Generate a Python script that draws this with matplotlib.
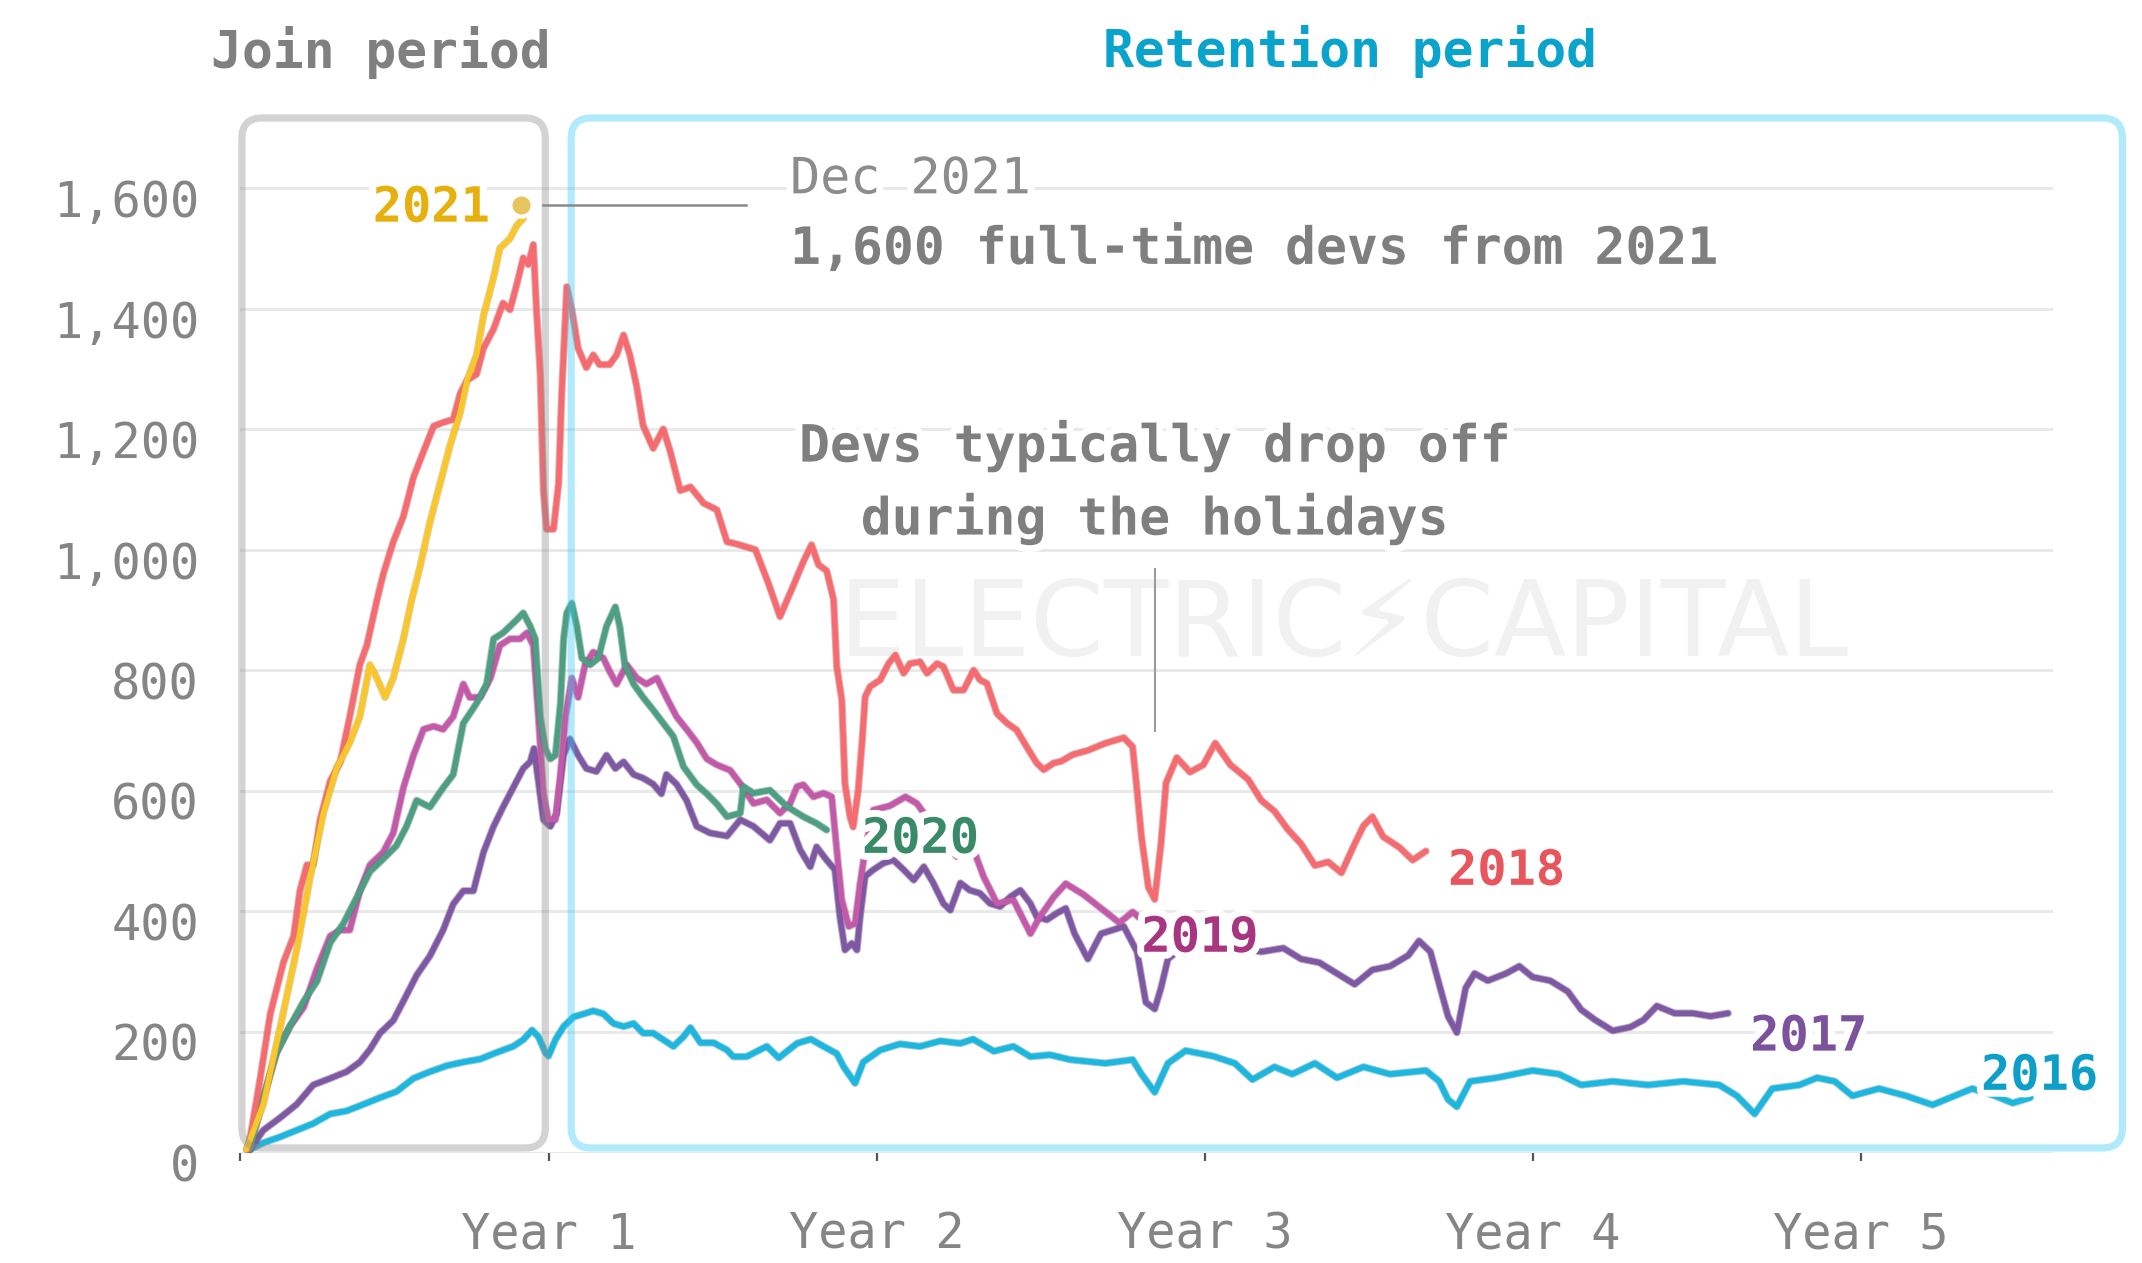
import matplotlib
matplotlib.use("Agg")
import matplotlib.pyplot as plt
import matplotlib.patheffects as pe
from matplotlib.patches import FancyBboxPatch
from matplotlib.transforms import ScaledTranslation
from matplotlib.colors import to_rgb

MONO = "DejaVu Sans Mono"
plt.rcParams["font.family"] = [MONO, "DejaVu Sans"]

# ---------------- data (weeks since cohort start, full-time devs) ----------------
weeks_2021 = [4.0, 6.7, 9.4, 12.0, 14.1, 16.2, 18.3, 20.4, 22.0, 23.6, 24.7, 26.0, 27.3, 28.9, 30.2,
              31.5, 33.1, 34.7, 36.3, 37.9, 39.0, 40.5, 41.6, 43.2, 44.2, 45.8, 46.9, 47.9]
devs_2021 = [5, 80, 209, 337, 455, 562, 637, 680, 723, 809, 787, 755, 787, 852, 916,
             970, 1045, 1109, 1173, 1227, 1281, 1323, 1388, 1452, 1500, 1516, 1538, 1549]

weeks_2018 = [4.3, 6.2, 7.8, 9.9, 11.5, 12.5, 13.6, 14.6, 15.7, 17.3,
              18.9, 20.4, 22.0, 23.1, 24.7, 25.7, 27.3, 28.9, 30.5, 32.1,
              33.7, 35.2, 36.8, 37.9, 39.0, 40.5, 41.6, 43.2, 44.7, 45.8,
              46.9, 47.9, 48.7, 49.5, 50.0, 50.6, 51.1, 51.6, 52.7, 53.5,
              54.0, 54.8, 55.6, 56.6, 57.9, 59.0, 60.0, 61.6, 62.7, 63.8,
              64.8, 65.9, 66.9, 68.5, 70.1, 71.2, 72.8, 74.4, 76.5, 78.6,
              80.2, 81.5, 84.7, 86.7, 88.6, 90.7, 92.3, 93.6, 94.7, 96.0,
              97.1, 97.6, 98.4, 98.9, 99.7, 100.2, 101.0, 101.6, 102.1, 102.9,
              104.5, 105.8, 106.9, 108.2, 109.2, 110.8, 111.9, 113.5, 114.5, 116.1,
              117.7, 119.3, 120.3, 121.4, 123.0, 124.6, 126.1, 127.7, 129.3, 130.4,
              132.0, 133.2, 135.0, 137.4, 140.2, 143.1, 144.5, 145.2, 145.9, 147.0,
              148.0, 149.0, 149.8, 151.5, 153.6, 155.7, 157.6, 160.0, 162.8, 164.9,
              167.0, 169.1, 171.2, 173.4, 175.5, 177.6, 179.7, 181.1, 182.5, 184.2,
              186.8, 188.9, 191.0]
devs_2018 = [5, 123, 230, 316, 359, 434, 477, 477, 552, 616,
             648, 723, 809, 841, 916, 959, 1013, 1055, 1120, 1163,
             1205, 1211, 1216, 1259, 1281, 1291, 1334, 1366, 1409, 1398,
             1441, 1484, 1473, 1506, 1398, 1291, 1098, 1034, 1034, 1109,
             1259, 1436, 1398, 1334, 1302, 1323, 1307, 1307, 1323, 1356,
             1323, 1270, 1206, 1168, 1200, 1163, 1098, 1104, 1077, 1066,
             1013, 1010, 1000, 946, 889, 940, 980, 1008, 975, 965,
             917, 806, 751, 612, 557, 540, 601, 679, 756, 773,
             784, 811, 825, 795, 811, 814, 795, 811, 806, 767,
             767, 800, 784, 778, 728, 712, 701, 673, 646, 635,
             646, 649, 660, 667, 679, 688, 673, 601, 524, 440,
             420, 512, 613, 655, 631, 643, 679, 643, 619, 584,
             566, 536, 512, 476, 482, 464, 512, 542, 557, 524,
             506, 485, 500]

weeks_2020 = [4.6, 6.7, 8.8, 10.9, 13.1, 15.2, 17.3, 19.4, 21.5, 23.6,
              25.7, 27.8, 29.4, 31.0, 33.1, 35.2, 36.8, 38.4, 40.5, 42.1,
              43.2, 44.7, 45.8, 46.9, 47.9, 49.0, 49.8, 50.6, 51.4, 52.2,
              53.0, 53.8, 54.3, 54.8, 55.6, 56.4, 57.2, 58.5, 59.8, 61.1,
              62.5, 63.2, 64.0, 65.4, 66.9, 68.5, 70.1, 71.7, 73.3, 75.4,
              77.0, 78.6, 80.2, 82.3, 82.8, 84.4, 87.0, 89.7, 92.3, 94.4, 96.0]
devs_2020 = [5, 91, 166, 209, 251, 284, 348, 380, 423, 466,
             487, 509, 541, 584, 573, 605, 627, 712, 745, 777,
             852, 862, 873, 884, 895, 873, 852, 723, 670, 653,
             659, 745, 852, 895, 911, 873, 820, 809, 820, 873,
             905, 873, 809, 777, 755, 734, 712, 690, 640, 610,
             595, 578, 557, 563, 607, 596, 601, 574, 557, 546, 535]

weeks_2019 = [4.1, 6.7, 8.8, 10.9, 13.1, 15.2, 17.3, 18.9, 20.4, 22.0,
              23.6, 25.7, 27.3, 28.9, 30.5, 32.1, 33.7, 35.2, 36.8, 38.4,
              39.4, 41.1, 42.7, 44.2, 45.8, 47.4, 48.5, 49.5, 50.3, 51.1,
              51.9, 53.0, 53.8, 54.6, 55.6, 56.6, 57.7, 59.0, 60.6, 61.6,
              62.7, 64.3, 65.9, 67.4, 69.1, 70.6, 72.2, 73.8, 75.4, 77.0,
              78.6, 80.7, 82.3, 84.4, 86.5, 88.6, 90.2, 91.3, 92.3, 93.9,
              95.5, 96.8, 97.6, 98.4, 99.5, 100.5, 101.3, 102.1, 103.4, 106.0,
              108.5, 110.3, 113.0, 116.6, 119.3, 120.9, 123.0, 125.6, 128.3, 129.8,
              132.0, 133.9, 136.7, 139.5, 142.4, 144.5, 145.5]
devs_2019 = [5, 91, 166, 209, 241, 305, 359, 369, 369, 434,
             477, 498, 530, 605, 659, 702, 707, 702, 723, 777,
             755, 755, 787, 841, 852, 852, 862, 841, 723, 595,
             552, 552, 627, 723, 787, 755, 809, 830, 820, 798,
             777, 809, 787, 777, 787, 755, 723, 702, 680, 653,
             643, 634, 612, 579, 585, 563, 579, 607, 610, 590,
             596, 590, 502, 419, 375, 380, 446, 502, 568, 575,
             590, 579, 540, 491, 502, 457, 413, 419, 363, 391,
             424, 446, 428, 405, 381, 399, 390]

weeks_2017 = [4.6, 6.7, 9.4, 12.0, 14.6, 17.3, 19.9, 22.0, 23.6, 25.2,
              27.3, 28.9, 31.0, 33.1, 35.2, 36.8, 38.4, 40.0, 41.6, 43.2,
              44.7, 46.3, 47.9, 49.0, 49.6, 50.3, 51.1, 52.2, 53.2, 54.3,
              55.3, 56.6, 57.9, 59.5, 61.1, 62.5, 63.8, 65.4, 66.9, 68.5,
              69.8, 70.6, 72.2, 73.8, 75.4, 77.5, 80.2, 82.3, 84.4, 87.0,
              88.6, 90.2, 91.8, 93.4, 94.4, 96.0, 97.3, 98.1, 98.9, 100.0,
              100.8, 101.3, 102.1, 103.4, 105.0, 106.6, 108.2, 109.8, 111.4, 112.9,
              114.5, 115.6, 117.2, 118.7, 120.3, 121.9, 123.5, 125.1, 126.7, 128.3,
              129.3, 130.9, 132.5, 133.9, 135.3, 137.4, 139.5, 143.1, 145.2, 146.6,
              148.0, 149.0, 150.1, 151.5, 154.3, 158.6, 164.9, 168.4, 171.2, 174.1,
              176.9, 179.7, 182.5, 185.3, 188.2, 189.9, 191.7, 193.1, 194.5, 195.9,
              197.3, 198.7, 200.8, 203.7, 205.8, 207.9, 210.7, 213.5, 215.6, 217.8,
              220.6, 223.4, 225.5, 227.6, 230.4, 233.3, 236.1, 238.9]
devs_2017 = [5, 37, 58, 80, 112, 123, 134, 150, 171, 198,
             219, 251, 294, 326, 369, 412, 434, 434, 498, 541,
             573, 605, 637, 648, 670, 616, 552, 541, 562, 659,
             686, 659, 637, 632, 659, 637, 648, 627, 621, 611,
             595, 627, 611, 584, 541, 530, 525, 552, 541, 518,
             546, 546, 502, 474, 507, 485, 469, 391, 336, 347,
             336, 391, 458, 469, 480, 485, 469, 452, 474, 447,
             413, 402, 447, 435, 430, 413, 408, 424, 435, 413,
             391, 386, 397, 405, 363, 321, 363, 375, 333, 249,
             238, 273, 321, 333, 339, 345, 333, 339, 321, 315,
             297, 279, 303, 309, 327, 351, 333, 279, 226, 199,
             273, 297, 285, 297, 309, 291, 285, 267, 237, 220,
             202, 208, 220, 243, 231, 231, 226, 231]

weeks_2016 = [4.6, 6.7, 9.4, 12.0, 14.6, 17.3, 19.9, 22.6, 25.2, 27.8,
              30.5, 33.1, 35.8, 38.4, 41.1, 43.7, 46.3, 47.9, 49.3, 50.3,
              51.4, 51.9, 53.0, 54.3, 55.9, 57.5, 59.0, 60.6, 62.2, 63.8,
              65.4, 66.9, 68.5, 70.1, 71.7, 73.3, 74.4, 76.0, 78.1, 80.2,
              81.2, 83.3, 86.5, 88.4, 91.3, 93.5, 95.5, 97.6, 98.7, 100.5,
              101.8, 104.5, 107.6, 110.8, 114.0, 117.2, 119.2, 122.5, 125.6, 128.3,
              131.4, 134.6, 140.2, 144.5, 145.9, 148.0, 150.1, 152.9, 157.2, 160.7,
              163.5, 167.0, 169.8, 173.4, 176.9, 181.1, 185.3, 191.0, 193.1, 194.5,
              195.9, 198.0, 202.2, 207.9, 212.1, 215.6, 220.6, 226.2, 231.8, 237.5,
              240.3, 243.1, 245.9, 250.2, 253.0, 255.8, 258.6, 262.8, 267.1, 271.3,
              274.8, 277.6, 281.2, 284.0, 286.8]
devs_2016 = [5, 16, 26, 37, 48, 64, 69, 80, 91, 101,
             123, 134, 144, 150, 155, 166, 176, 187, 203, 192,
             166, 160, 187, 209, 225, 230, 235, 230, 214, 209,
             214, 198, 198, 187, 176, 192, 207, 182, 182, 170,
             159, 159, 176, 157, 181, 188, 176, 164, 142, 115,
             150, 170, 180, 176, 185, 181, 188, 168, 176, 159,
             162, 154, 148, 154, 130, 100, 148, 169, 160, 148,
             121, 142, 130, 148, 124, 142, 130, 136, 118, 88,
             76, 118, 124, 136, 130, 112, 118, 112, 118, 112,
             94, 64, 106, 112, 124, 118, 94, 106, 94, 79,
             94, 106, 94, 82, 91]

cohorts = ["2016", "2017", "2019", "2020", "2018", "2021"]  # drawing order
series = {
    "2016": (weeks_2016, devs_2016),
    "2017": (weeks_2017, devs_2017),
    "2018": (weeks_2018, devs_2018),
    "2019": (weeks_2019, devs_2019),
    "2020": (weeks_2020, devs_2020),
    "2021": (weeks_2021, devs_2021),
}
for k, (w, d) in series.items():
    assert len(w) == len(d), (k, len(w), len(d))

y_ticks = [0, 200, 400, 600, 800, 1000, 1200, 1400, 1600]
y_labels = ["0", "200", "400", "600", "800", "1,000", "1,200", "1,400", "1,600"]
x_ticks = [3, 52, 104, 156, 208, 260]
x_labels = ["", "Year 1", "Year 2", "Year 3", "Year 4", "Year 5"]

# ---------------- style ----------------
line_colors = {"2016": "#1db6de", "2017": "#7f58a3", "2018": "#f66b6f",
               "2019": "#c25aa9", "2020": "#4d9e82", "2021": "#f9c62c"}
label_colors = {"2016": "#0e9fc8", "2017": "#7d529d", "2018": "#e8555c",
                "2019": "#a8357f", "2020": "#3a8a6a", "2021": "#e6b00f"}
# label anchor: (week, devs, horizontal alignment)
label_pos = {"2016": (279.0, 104, "left"), "2017": (242.4, 169, "left"),
             "2018": (194.5, 444, "left"), "2019": (145.9, 333, "left"),
             "2020": (101.6, 497, "left"), "2021": (42.6, 1544, "right")}

W, H = 2142, 1263
fig = plt.figure(figsize=(W / 100, H / 100), dpi=100)
ax_l, ax_r, ax_t, ax_b = 240, 2053, 118, 1152.5
ax = fig.add_axes([ax_l / W, 1 - ax_b / H, (ax_r - ax_l) / W, (ax_b - ax_t) / H])
XMIN, XMAX, YMAX = 3, 290.4, 1716
ax.set_xlim(XMIN, XMAX)
ax.set_ylim(0, YMAX)
for s in ax.spines.values():
    s.set_visible(False)

ax.set_yticks(y_ticks, y_labels)
ax.set_xticks(x_ticks, x_labels)
ax.yaxis.grid(True, color="#e9e9e9", lw=2.2)
ax.set_axisbelow(True)
ax.tick_params(axis="y", length=0, pad=29.5, labelsize=35, labelcolor="#858585")
ax.tick_params(axis="x", length=6, width=1.6, color="#555555", pad=36,
               labelsize=35, labelcolor="#858585")
off = ScaledTranslation(0, -0.10, fig.dpi_scale_trans)
for lab in ax.get_yticklabels():
    lab.set_transform(lab.get_transform() + off)

# watermark
ax.text(177.9, 824, "ELECTRIC\u26a1CAPITAL", fontsize=76, family=["DejaVu Sans"],
        color="#f1f1f1", ha="center", va="baseline", zorder=1)

# lines
for c in cohorts:
    w, d = series[c]
    dark = tuple(v * 0.78 for v in to_rgb(line_colors[c]))
    ax.plot(w, d, color=line_colors[c], lw=4.0, solid_joinstyle="round",
            solid_capstyle="round", zorder=3, clip_on=False,
            path_effects=[pe.Stroke(linewidth=5.4, foreground=dark, alpha=0.45), pe.Normal()])

# period boxes
px_per_week = (ax_r - ax_l) / (XMAX - XMIN)
px_per_dev = (ax_b - ax_t) / YMAX
aspect = px_per_week / px_per_dev


def period_box(x0, x1, color, alpha):
    p = FancyBboxPatch((x0, 7.5), x1 - x0, YMAX - 7.5,
                       boxstyle="round,pad=0,rounding_size=3.2", mutation_aspect=aspect,
                       facecolor="none", edgecolor=color, alpha=alpha, lw=5.2,
                       clip_on=False, zorder=4)
    ax.add_patch(p)


period_box(3.3, 51.4, (0.55, 0.55, 0.55), 0.38)
period_box(55.5, 301.4, (0.2, 0.79, 0.957), 0.38)

halo = [pe.withStroke(linewidth=10, foreground="white")]

# titles
fig.text(381 / W, 1 - 68 / H, "Join period", ha="center", va="baseline",
         fontsize=37, fontweight="bold", color="#808080")
fig.text(1350 / W, 1 - 67 / H, "Retention period", ha="center", va="baseline",
         fontsize=37, fontweight="bold", color="#0aa3cc")

# Dec 2021 annotation
dec_week, dec_devs = 47.6, 1572
ax.plot([51.0, 83.2], [dec_devs, dec_devs], color="#8a8a8a", lw=1.8, zorder=5, clip_on=False)
ax.plot([dec_week], [dec_devs], "o", ms=16, mfc="#e6c55f", mec="white", mew=3,
        zorder=7, clip_on=False)
ax.text(90.2, 1591, "Dec 2021", fontsize=36, color="#8c8c8c", ha="left", va="baseline",
        path_effects=halo, zorder=6)
ax.text(90.2, 1474, "1,600 full-time devs from 2021", fontsize=37, fontweight="bold",
        color="#7f7f7f", ha="left", va="baseline", path_effects=halo, zorder=6)

# holidays annotation
ax.plot([148, 148], [699, 968], color="#9a9a9a", lw=1.5, zorder=2)
ax.text(147.9, 1146, "Devs typically drop off", fontsize=37, fontweight="bold",
        color="#7f7f7f", ha="center", va="baseline", path_effects=halo, zorder=6)
ax.text(147.9, 1025, "during the holidays", fontsize=37, fontweight="bold",
        color="#7f7f7f", ha="center", va="baseline", path_effects=halo, zorder=6)

# cohort labels
for c, (x, y, ha) in label_pos.items():
    ax.text(x, y, c, fontsize=35, fontweight="bold", color=label_colors[c], ha=ha,
            va="baseline", path_effects=halo, zorder=8, clip_on=False)

fig.savefig("out.png", dpi=100, facecolor="white")
